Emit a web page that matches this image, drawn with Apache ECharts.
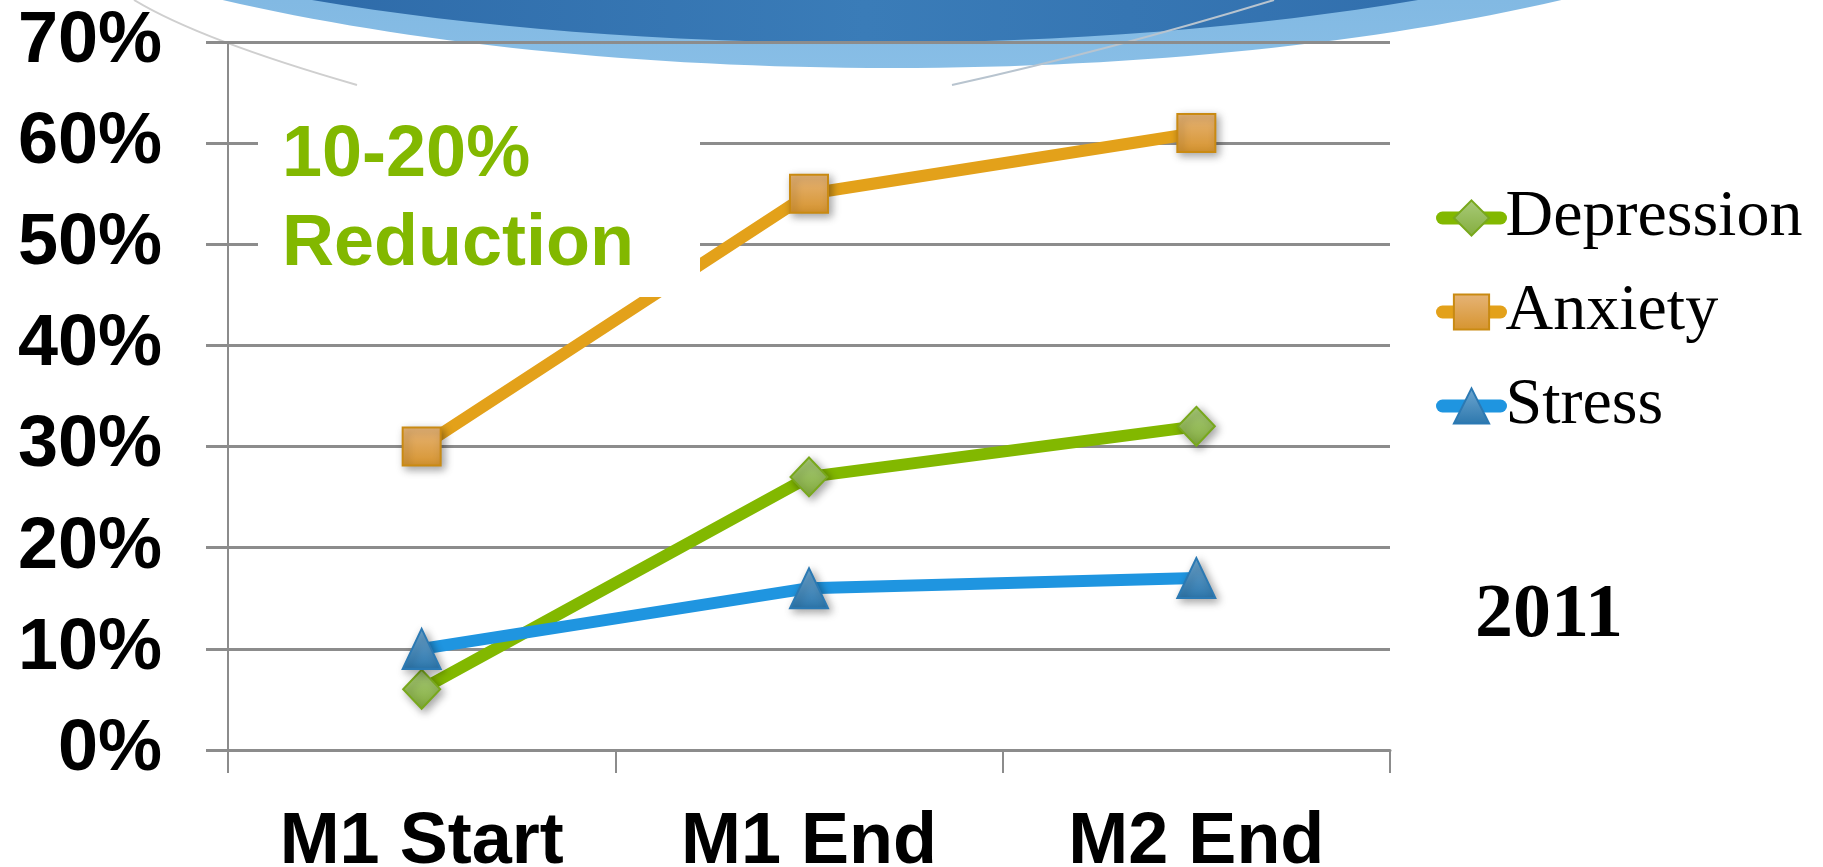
<!DOCTYPE html>
<html><head><meta charset="utf-8">
<script src="https://cdn.jsdelivr.net/npm/echarts@6/dist/echarts.min.js"></script>
<style>html,body{margin:0;padding:0;background:#fff}#c{width:1823px;height:867px}</style>
</head><body><div id="c"></div>
<script>
const categories = ['M1 Start', 'M1 End', 'M2 End'];
const depression = [6, 27, 32];
const anxiety = [30, 55, 61];
const stress = [10, 16, 17];
const yMin = 0, yMax = 70, yStep = 10;
const annotationLines = ['10-20%', 'Reduction'];
const yearLabel = '2011';

function vgrad(top, bottom) {
  return new echarts.graphic.LinearGradient(0, 0, 0, 1, [{offset: 0, color: top}, {offset: 1, color: bottom}]);
}
const shadow = {shadowBlur: 8, shadowColor: 'rgba(0,0,0,0.35)', shadowOffsetX: 3, shadowOffsetY: 3};
const grey = '#8c8c8c';
const sans = '"Liberation Sans", Arial, sans-serif';
const serif = '"Liberation Serif", "Times New Roman", serif';

const chart = echarts.init(document.getElementById('c'));
chart.setOption({
  animation: false,
  backgroundColor: '#fff',
  grid: {left: 228, right: 433, top: 42, bottom: 117, containLabel: false, outerBoundsMode: 'none'},
  graphic: [
    {type: 'ellipse', z: -20, silent: true, shape: {cx: 892, cy: -250, rx: 1083, ry: 318},
      style: {fill: vgrad('#4f8fc8', '#88bee6')}},
    {type: 'ellipse', z: -19, silent: true, shape: {cx: 865, cy: -247, rx: 1055, ry: 290},
      style: {fill: new echarts.graphic.LinearGradient(0, 0, 1, 0, [
        {offset: 0, color: '#245c9c'}, {offset: 0.5, color: '#3a7cb8'}, {offset: 1, color: '#2a64a4'}])}},
    {type: 'bezierCurve', z: -18, silent: true, shape: {x1: 134, y1: 0, cpx1: 200, cpy1: 40, x2: 357, y2: 85},
      style: {stroke: '#cfcfcf', lineWidth: 2, fill: null}},
    {type: 'bezierCurve', z: -18, silent: true, shape: {x1: 1274, y1: 0, cpx1: 1110, cpy1: 50, x2: 952, y2: 85},
      style: {stroke: '#b8c4cf', lineWidth: 2, fill: null}},
    {type: 'rect', z: 100, silent: true, shape: {x: 258, y: 90, width: 442, height: 207}, style: {fill: '#fff'}},
    {type: 'text', z: 101, silent: true, x: 282, y: 112,
      style: {text: annotationLines.join('\n'), font: 'bold 72px ' + sans, fill: '#82b800', lineHeight: 89, align: 'left', verticalAlign: 'top'}},
    {type: 'text', z: 101, silent: true, x: 1549, y: 616,
      style: {text: yearLabel, font: 'bold 76px ' + serif, fill: '#000', align: 'center', verticalAlign: 'middle'}}
  ],
  legend: {
    orient: 'vertical', left: 1436, top: 185, padding: 0,
    itemWidth: 58, itemHeight: 44, itemGap: 28,
    lineStyle: {width: 13, cap: 'round'},
    textStyle: {fontFamily: serif, fontSize: 66, color: '#000'},
    data: ['Depression', 'Anxiety', 'Stress']
  },
  xAxis: {
    type: 'category', data: categories, boundaryGap: true,
    axisLine: {lineStyle: {color: grey, width: 3}},
    axisTick: {show: true, length: 23, lineStyle: {color: grey, width: 2}},
    axisLabel: {fontSize: 72, fontWeight: 'bold', fontFamily: sans, color: '#000', margin: 57}
  },
  yAxis: {
    type: 'value', min: yMin, max: yMax, interval: yStep,
    axisLine: {show: true, lineStyle: {color: grey, width: 2}},
    axisTick: {show: true, length: 22, lineStyle: {color: grey, width: 3}},
    splitLine: {show: true, lineStyle: {color: grey, width: 3}},
    axisLabel: {formatter: '{value}%', fontSize: 72, fontWeight: 'bold', fontFamily: sans, color: '#000', margin: 66}
  },
  series: [
    {name: 'Depression', type: 'line', data: depression, symbol: 'diamond', symbolSize: [37, 39],
      lineStyle: {color: '#82b800', width: 12}, emphasis: {disabled: true},
      itemStyle: Object.assign({color: vgrad('#a9cb7a', '#84ad3e'), borderColor: '#78a81c', borderWidth: 2}, shadow)},
    {name: 'Anxiety', type: 'line', data: anxiety, symbol: 'rect', symbolSize: 38,
      lineStyle: {color: '#e3a11a', width: 12}, emphasis: {disabled: true},
      itemStyle: Object.assign({color: vgrad('#e6b478', '#d6942e'), borderColor: '#c98a12', borderWidth: 2}, shadow)},
    {name: 'Stress', type: 'line', data: stress, symbol: 'triangle', symbolSize: [38, 40],
      lineStyle: {color: '#1f95e0', width: 12}, emphasis: {disabled: true},
      itemStyle: Object.assign({color: vgrad('#70a8d1', '#2c77ad'), borderColor: '#2b79b3', borderWidth: 2}, shadow)}
  ]
});
</script>
</body></html>
